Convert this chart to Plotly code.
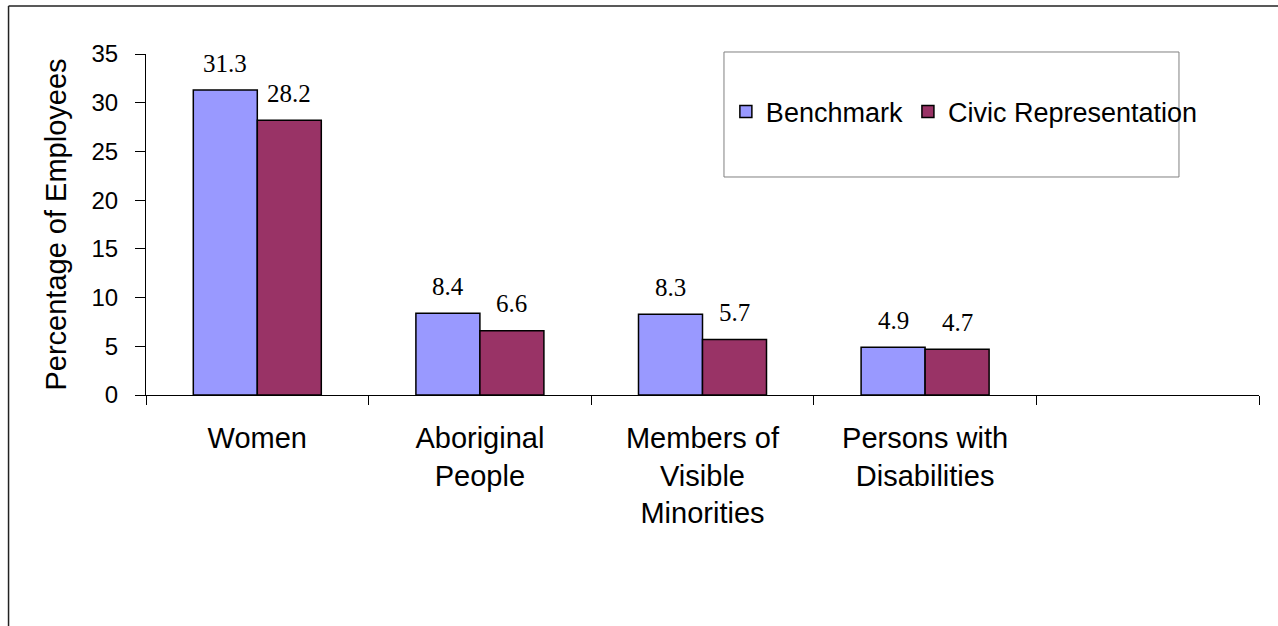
import plotly.graph_objects as go

categories = ["Women", "Aboriginal<br>People", "Members of<br>Visible<br>Minorities",
              "Persons with<br>Disabilities", " "]
benchmark = [31.3, 8.4, 8.3, 4.9]
civic = [28.2, 6.6, 5.7, 4.7]
series_names = ["Benchmark", "Civic Representation"]
y_ticks = [0, 5, 10, 15, 20, 25, 30, 35]

SANS = "Arial, Liberation Sans, sans-serif"
SERIF = "Times New Roman, Liberation Serif, serif"
COL_B = "#9999FF"
COL_C = "#993366"

fig = go.Figure()
fig.add_trace(go.Bar(name=series_names[0], x=categories[:4], y=benchmark,
                     marker=dict(color=COL_B, line=dict(color="black", width=1.5))))
fig.add_trace(go.Bar(name=series_names[1], x=categories[:4], y=civic,
                     marker=dict(color=COL_C, line=dict(color="black", width=1.5))))

annotations = []
for vals, dx in ((benchmark, -32), (civic, 32)):
    for cat, v in zip(categories, vals):
        annotations.append(dict(x=cat, y=v, xref="x", yref="y", text=f"{v}",
                                showarrow=False, xshift=dx, yshift=27,
                                yanchor="middle",
                                font=dict(family=SERIF, size=25, color="black")))

fig.update_layout(
    width=1278, height=626,
    margin=dict(l=146, r=19, t=54, b=231),
    paper_bgcolor="white", plot_bgcolor="white",
    barmode="group", bargap=0.425, bargroupgap=0,
    showlegend=True,
    legend=dict(orientation="h", x=0.521, y=0.83, xanchor="left", yanchor="middle",
                bgcolor="rgba(0,0,0,0)", borderwidth=0,
                font=dict(family=SANS, size=27, color="black")),
    annotations=annotations,
    shapes=[
        # legend box
        dict(type="rect", xref="paper", yref="paper", x0=0.5193, x1=0.9281,
             y0=0.6393, y1=1.0059, line=dict(color="#808080", width=1)),
        # outer frame (top and left edges)
        dict(type="line", xref="paper", yref="paper", x0=-0.1235, x1=1.03,
             y0=1.1408, y1=1.1408, line=dict(color="#222222", width=1.5)),
        dict(type="line", xref="paper", yref="paper", x0=-0.1235, x1=-0.1235,
             y0=1.1408, y1=-0.75, line=dict(color="#222222", width=1.5)),
    ],
)

fig.update_xaxes(type="category", categoryorder="array", categoryarray=categories,
                 range=[-0.5, 4.5], showline=True, linecolor="black", linewidth=1,
                 ticks="outside", tickson="boundaries", ticklen=9, tickcolor="black",
                 showgrid=False, ticklabelstandoff=17,
                 tickfont=dict(family=SANS, size=29, color="black"))
fig.update_yaxes(range=[0, 35], tickvals=y_ticks, showline=True, linecolor="black",
                 linewidth=1, ticks="outside", ticklen=10, tickcolor="black",
                 showgrid=False, zeroline=False, ticklabelstandoff=12,
                 tickfont=dict(family=SANS, size=24, color="black"),
                 title=dict(text="Percentage of Employees", standoff=16,
                            font=dict(family=SANS, size=29, color="black")))

fig.write_html("out.html", config={"displayModeBar": False},
               post_script="document.body.style.margin='0';document.body.style.overflow='hidden';")
